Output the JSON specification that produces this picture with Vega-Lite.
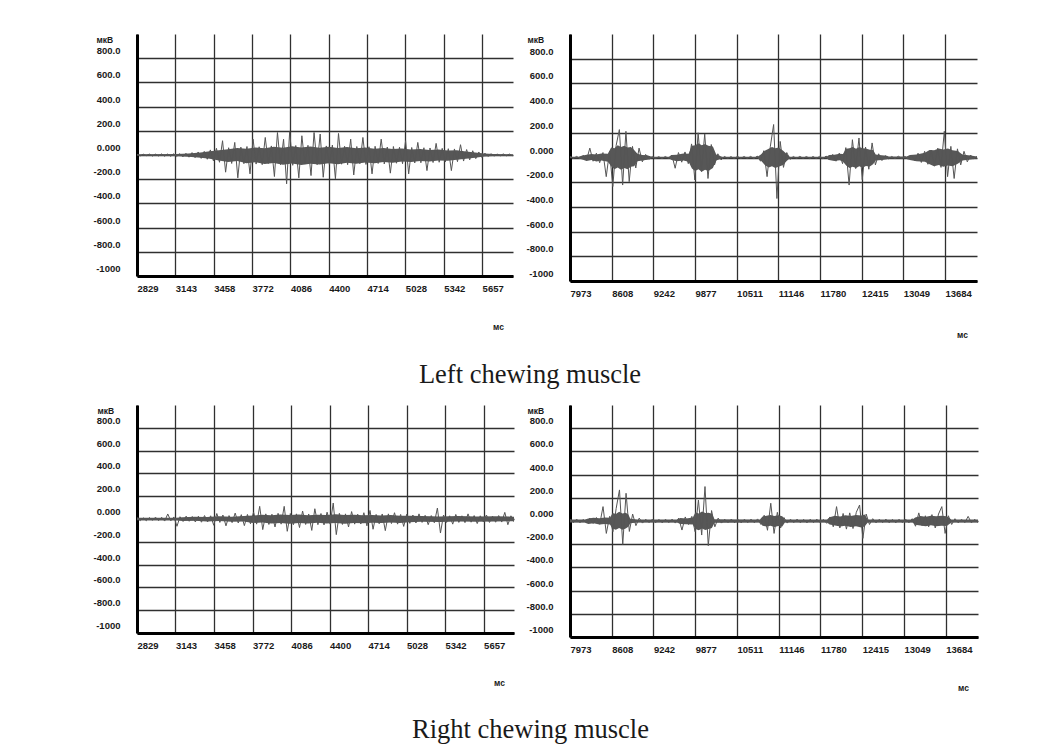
{
  "$schema": "https://vega.github.io/schema/vega-lite/v6.json",
  "autosize": {"type": "none"},
  "padding": {"left": 137, "top": 34, "right": 910, "bottom": 717},
  "background": "white",
  "columns": 2,
  "bounds": "flush",
  "spacing": {"row": 124, "column": 56},
  "datasets": {
    "tl": [{"t":2830,"v":6},{"t":2855,"v":-8},{"t":2880,"v":7},{"t":2905,"v":-6},{"t":2930,"v":8},{"t":2955,"v":-9},{"t":2980,"v":7},{"t":3005,"v":-8},{"t":3030,"v":9},{"t":3055,"v":-10},{"t":3080,"v":8},{"t":3105,"v":-11},{"t":3130,"v":10},{"t":3155,"v":-12},{"t":3180,"v":11},{"t":3205,"v":-15},{"t":3230,"v":14},{"t":3255,"v":-18},{"t":3280,"v":20},{"t":3305,"v":-22},{"t":3330,"v":25},{"t":3355,"v":-28},{"t":3380,"v":30},{"t":3405,"v":-35},{"t":3430,"v":42},{"t":3455,"v":-48},{"t":3480,"v":55},{"t":3505,"v":-60},{"t":3530,"v":118},{"t":3555,"v":-142},{"t":3580,"v":60},{"t":3605,"v":-70},{"t":3630,"v":104},{"t":3655,"v":-189},{"t":3680,"v":65},{"t":3705,"v":-72},{"t":3730,"v":70},{"t":3755,"v":-156},{"t":3780,"v":131},{"t":3805,"v":-75},{"t":3830,"v":68},{"t":3855,"v":-80},{"t":3880,"v":145},{"t":3905,"v":-70},{"t":3930,"v":75},{"t":3955,"v":-178},{"t":3980,"v":186},{"t":4005,"v":-80},{"t":4030,"v":130},{"t":4055,"v":-238},{"t":4080,"v":192},{"t":4105,"v":-85},{"t":4130,"v":78},{"t":4155,"v":-189},{"t":4180,"v":159},{"t":4205,"v":-75},{"t":4230,"v":80},{"t":4255,"v":-170},{"t":4280,"v":186},{"t":4305,"v":-80},{"t":4330,"v":173},{"t":4355,"v":-184},{"t":4380,"v":75},{"t":4405,"v":-78},{"t":4430,"v":82},{"t":4455,"v":-197},{"t":4480,"v":178},{"t":4505,"v":-76},{"t":4530,"v":72},{"t":4555,"v":-80},{"t":4580,"v":131},{"t":4605,"v":-165},{"t":4630,"v":70},{"t":4655,"v":-72},{"t":4680,"v":145},{"t":4705,"v":-78},{"t":4730,"v":68},{"t":4755,"v":-156},{"t":4780,"v":72},{"t":4805,"v":-70},{"t":4830,"v":131},{"t":4855,"v":-74},{"t":4880,"v":66},{"t":4905,"v":-150},{"t":4930,"v":70},{"t":4955,"v":-68},{"t":4980,"v":64},{"t":5005,"v":-72},{"t":5030,"v":118},{"t":5055,"v":-156},{"t":5080,"v":62},{"t":5105,"v":-66},{"t":5130,"v":104},{"t":5155,"v":-64},{"t":5180,"v":60},{"t":5205,"v":-129},{"t":5230,"v":58},{"t":5255,"v":-62},{"t":5280,"v":96},{"t":5305,"v":-60},{"t":5330,"v":55},{"t":5355,"v":-58},{"t":5380,"v":52},{"t":5405,"v":-129},{"t":5430,"v":50},{"t":5455,"v":-55},{"t":5480,"v":85},{"t":5505,"v":-50},{"t":5530,"v":45},{"t":5555,"v":-40},{"t":5580,"v":35},{"t":5605,"v":-30},{"t":5630,"v":25},{"t":5655,"v":-20},{"t":5680,"v":15},{"t":5705,"v":-12},{"t":5730,"v":10},{"t":5755,"v":-9},{"t":5780,"v":8},{"t":5805,"v":-8},{"t":5830,"v":9},{"t":5855,"v":-7},{"t":5880,"v":8},{"t":5905,"v":-6}],
    "tl_env": [{"t":2829,"lo":-6,"hi":6},{"t":3150,"lo":-9,"hi":9},{"t":3250,"lo":-14,"hi":13},{"t":3350,"lo":-22,"hi":20},{"t":3425,"lo":-32,"hi":30},{"t":3500,"lo":-45,"hi":40},{"t":3575,"lo":-58,"hi":48},{"t":3650,"lo":-50,"hi":58},{"t":3725,"lo":-68,"hi":52},{"t":3800,"lo":-60,"hi":62},{"t":3875,"lo":-75,"hi":55},{"t":3950,"lo":-66,"hi":68},{"t":4025,"lo":-80,"hi":60},{"t":4100,"lo":-70,"hi":72},{"t":4175,"lo":-82,"hi":62},{"t":4250,"lo":-72,"hi":70},{"t":4325,"lo":-78,"hi":60},{"t":4400,"lo":-68,"hi":68},{"t":4475,"lo":-76,"hi":58},{"t":4550,"lo":-65,"hi":66},{"t":4625,"lo":-72,"hi":56},{"t":4700,"lo":-62,"hi":62},{"t":4775,"lo":-68,"hi":52},{"t":4850,"lo":-58,"hi":58},{"t":4925,"lo":-64,"hi":50},{"t":5000,"lo":-54,"hi":54},{"t":5075,"lo":-58,"hi":46},{"t":5150,"lo":-50,"hi":50},{"t":5225,"lo":-54,"hi":42},{"t":5300,"lo":-46,"hi":46},{"t":5375,"lo":-48,"hi":38},{"t":5450,"lo":-40,"hi":40},{"t":5525,"lo":-32,"hi":28},{"t":5600,"lo":-22,"hi":20},{"t":5675,"lo":-12,"hi":12},{"t":5750,"lo":-8,"hi":8},{"t":5910,"lo":-6,"hi":6}],
    "tr": [{"t":7975,"v":8},{"t":8025,"v":-7},{"t":8075,"v":9},{"t":8125,"v":-10},{"t":8175,"v":18},{"t":8225,"v":-22},{"t":8275,"v":76},{"t":8325,"v":-30},{"t":8375,"v":35},{"t":8425,"v":-42},{"t":8475,"v":40},{"t":8525,"v":-155},{"t":8575,"v":50},{"t":8625,"v":-235},{"t":8675,"v":95},{"t":8725,"v":226},{"t":8775,"v":-223},{"t":8825,"v":212},{"t":8875,"v":-196},{"t":8925,"v":90},{"t":8975,"v":-85},{"t":9025,"v":76},{"t":9075,"v":-35},{"t":9125,"v":25},{"t":9175,"v":-15},{"t":9225,"v":8},{"t":9275,"v":-8},{"t":9325,"v":7},{"t":9375,"v":-9},{"t":9425,"v":8},{"t":9475,"v":-8},{"t":9525,"v":20},{"t":9575,"v":-87},{"t":9625,"v":40},{"t":9675,"v":-38},{"t":9725,"v":45},{"t":9775,"v":-50},{"t":9825,"v":110},{"t":9875,"v":-182},{"t":9925,"v":200},{"t":9975,"v":-114},{"t":10025,"v":190},{"t":10075,"v":-170},{"t":10125,"v":105},{"t":10175,"v":-60},{"t":10225,"v":30},{"t":10275,"v":-20},{"t":10325,"v":9},{"t":10375,"v":-8},{"t":10425,"v":7},{"t":10475,"v":-8},{"t":10525,"v":9},{"t":10575,"v":-7},{"t":10625,"v":8},{"t":10675,"v":-8},{"t":10725,"v":9},{"t":10775,"v":-10},{"t":10825,"v":12},{"t":10875,"v":-30},{"t":10925,"v":55},{"t":10975,"v":-155},{"t":11025,"v":90},{"t":11075,"v":267},{"t":11125,"v":-332},{"t":11175,"v":130},{"t":11225,"v":-80},{"t":11275,"v":40},{"t":11325,"v":-15},{"t":11375,"v":8},{"t":11425,"v":-8},{"t":11475,"v":9},{"t":11525,"v":-7},{"t":11575,"v":8},{"t":11625,"v":-9},{"t":11675,"v":8},{"t":11725,"v":-8},{"t":11775,"v":9},{"t":11825,"v":-10},{"t":11875,"v":12},{"t":11925,"v":-20},{"t":11975,"v":25},{"t":12025,"v":-30},{"t":12075,"v":35},{"t":12125,"v":-50},{"t":12175,"v":80},{"t":12225,"v":-223},{"t":12275,"v":144},{"t":12325,"v":-90},{"t":12375,"v":158},{"t":12425,"v":-180},{"t":12475,"v":85},{"t":12525,"v":-95},{"t":12575,"v":118},{"t":12625,"v":-60},{"t":12675,"v":30},{"t":12725,"v":-25},{"t":12775,"v":15},{"t":12825,"v":-10},{"t":12875,"v":8},{"t":12925,"v":-9},{"t":12975,"v":10},{"t":13025,"v":-8},{"t":13075,"v":9},{"t":13125,"v":-15},{"t":13175,"v":20},{"t":13225,"v":-25},{"t":13275,"v":35},{"t":13325,"v":-40},{"t":13375,"v":50},{"t":13425,"v":-55},{"t":13475,"v":60},{"t":13525,"v":-70},{"t":13575,"v":75},{"t":13625,"v":-80},{"t":13675,"v":212},{"t":13725,"v":-155},{"t":13775,"v":90},{"t":13825,"v":-170},{"t":13875,"v":70},{"t":13925,"v":-60},{"t":13975,"v":50},{"t":14025,"v":-35},{"t":14075,"v":20},{"t":14125,"v":-12},{"t":14170,"v":10}],
    "tr_env": [{"t":7973,"lo":-6,"hi":6},{"t":8100,"lo":-7,"hi":7},{"t":8150,"lo":-15,"hi":15},{"t":8225,"lo":-28,"hi":22},{"t":8300,"lo":-20,"hi":28},{"t":8375,"lo":-32,"hi":25},{"t":8450,"lo":-25,"hi":32},{"t":8550,"lo":-35,"hi":30},{"t":8600,"lo":-70,"hi":80},{"t":8650,"lo":-95,"hi":75},{"t":8700,"lo":-80,"hi":100},{"t":8750,"lo":-100,"hi":85},{"t":8800,"lo":-85,"hi":95},{"t":8850,"lo":-95,"hi":80},{"t":8900,"lo":-75,"hi":85},{"t":8950,"lo":-70,"hi":60},{"t":9000,"lo":-30,"hi":30},{"t":9075,"lo":-25,"hi":20},{"t":9150,"lo":-18,"hi":18},{"t":9220,"lo":-6,"hi":6},{"t":9480,"lo":-6,"hi":6},{"t":9520,"lo":-20,"hi":20},{"t":9600,"lo":-30,"hi":22},{"t":9700,"lo":-25,"hi":32},{"t":9780,"lo":-35,"hi":30},{"t":9830,"lo":-90,"hi":95},{"t":9880,"lo":-110,"hi":100},{"t":9930,"lo":-95,"hi":115},{"t":9980,"lo":-115,"hi":100},{"t":10030,"lo":-100,"hi":110},{"t":10080,"lo":-110,"hi":95},{"t":10150,"lo":-85,"hi":90},{"t":10200,"lo":-25,"hi":25},{"t":10290,"lo":-6,"hi":6},{"t":10830,"lo":-6,"hi":6},{"t":10880,"lo":-25,"hi":25},{"t":10940,"lo":-60,"hi":55},{"t":11000,"lo":-80,"hi":70},{"t":11050,"lo":-70,"hi":85},{"t":11100,"lo":-85,"hi":75},{"t":11150,"lo":-75,"hi":80},{"t":11220,"lo":-60,"hi":55},{"t":11270,"lo":-30,"hi":30},{"t":11320,"lo":-6,"hi":6},{"t":11880,"lo":-6,"hi":6},{"t":11920,"lo":-20,"hi":20},{"t":12000,"lo":-28,"hi":22},{"t":12080,"lo":-22,"hi":30},{"t":12130,"lo":-32,"hi":28},{"t":12180,"lo":-65,"hi":70},{"t":12230,"lo":-85,"hi":75},{"t":12280,"lo":-75,"hi":85},{"t":12330,"lo":-85,"hi":70},{"t":12380,"lo":-70,"hi":85},{"t":12430,"lo":-82,"hi":75},{"t":12480,"lo":-68,"hi":72},{"t":12540,"lo":-72,"hi":62},{"t":12590,"lo":-55,"hi":60},{"t":12630,"lo":-25,"hi":25},{"t":12720,"lo":-20,"hi":18},{"t":12800,"lo":-15,"hi":15},{"t":12830,"lo":-8,"hi":8},{"t":13100,"lo":-8,"hi":8},{"t":13150,"lo":-20,"hi":20},{"t":13250,"lo":-30,"hi":25},{"t":13380,"lo":-35,"hi":38},{"t":13450,"lo":-55,"hi":60},{"t":13520,"lo":-70,"hi":58},{"t":13590,"lo":-60,"hi":72},{"t":13660,"lo":-75,"hi":65},{"t":13730,"lo":-65,"hi":72},{"t":13800,"lo":-70,"hi":58},{"t":13880,"lo":-50,"hi":52},{"t":13950,"lo":-25,"hi":25},{"t":14100,"lo":-15,"hi":15},{"t":14173,"lo":-8,"hi":8}],
    "bl": [{"t":2830,"v":12},{"t":2855,"v":-14},{"t":2880,"v":10},{"t":2905,"v":-15},{"t":2930,"v":13},{"t":2955,"v":-12},{"t":2980,"v":16},{"t":3005,"v":-14},{"t":3030,"v":15},{"t":3055,"v":-18},{"t":3080,"v":44},{"t":3105,"v":-16},{"t":3130,"v":18},{"t":3155,"v":-64},{"t":3180,"v":20},{"t":3205,"v":-22},{"t":3230,"v":25},{"t":3255,"v":-20},{"t":3280,"v":22},{"t":3305,"v":-26},{"t":3330,"v":24},{"t":3355,"v":-28},{"t":3380,"v":30},{"t":3405,"v":-25},{"t":3430,"v":28},{"t":3455,"v":-55},{"t":3480,"v":48},{"t":3505,"v":-30},{"t":3530,"v":35},{"t":3555,"v":-60},{"t":3580,"v":30},{"t":3605,"v":-32},{"t":3630,"v":52},{"t":3655,"v":-35},{"t":3680,"v":38},{"t":3705,"v":-58},{"t":3730,"v":40},{"t":3755,"v":-42},{"t":3780,"v":60},{"t":3805,"v":-45},{"t":3830,"v":111},{"t":3855,"v":-93},{"t":3880,"v":45},{"t":3905,"v":-48},{"t":3930,"v":42},{"t":3955,"v":-70},{"t":3980,"v":50},{"t":4005,"v":-45},{"t":4030,"v":111},{"t":4055,"v":-108},{"t":4080,"v":48},{"t":4105,"v":-50},{"t":4130,"v":45},{"t":4155,"v":-75},{"t":4180,"v":70},{"t":4205,"v":-48},{"t":4230,"v":44},{"t":4255,"v":-100},{"t":4280,"v":90},{"t":4305,"v":-50},{"t":4330,"v":48},{"t":4355,"v":-52},{"t":4380,"v":60},{"t":4405,"v":-45},{"t":4430,"v":140},{"t":4455,"v":-137},{"t":4480,"v":50},{"t":4505,"v":-48},{"t":4530,"v":45},{"t":4555,"v":-70},{"t":4580,"v":65},{"t":4605,"v":-45},{"t":4630,"v":42},{"t":4655,"v":-44},{"t":4680,"v":55},{"t":4705,"v":-60},{"t":4730,"v":75},{"t":4755,"v":-90},{"t":4780,"v":40},{"t":4805,"v":-42},{"t":4830,"v":44},{"t":4855,"v":-102},{"t":4880,"v":45},{"t":4905,"v":-40},{"t":4930,"v":55},{"t":4955,"v":-45},{"t":4980,"v":40},{"t":5005,"v":-65},{"t":5030,"v":42},{"t":5055,"v":-38},{"t":5080,"v":35},{"t":5105,"v":-35},{"t":5130,"v":45},{"t":5155,"v":-30},{"t":5180,"v":32},{"t":5205,"v":-50},{"t":5230,"v":30},{"t":5255,"v":-33},{"t":5280,"v":96},{"t":5305,"v":-123},{"t":5330,"v":35},{"t":5355,"v":-30},{"t":5380,"v":28},{"t":5405,"v":-45},{"t":5430,"v":40},{"t":5455,"v":-30},{"t":5480,"v":28},{"t":5505,"v":-32},{"t":5530,"v":45},{"t":5555,"v":-28},{"t":5580,"v":30},{"t":5605,"v":-40},{"t":5630,"v":28},{"t":5655,"v":-26},{"t":5680,"v":35},{"t":5705,"v":-30},{"t":5730,"v":25},{"t":5755,"v":-28},{"t":5780,"v":30},{"t":5805,"v":-27},{"t":5830,"v":58},{"t":5855,"v":-50},{"t":5880,"v":28},{"t":5905,"v":-25}],
    "bl_env": [{"t":2829,"lo":-10,"hi":10},{"t":3150,"lo":-12,"hi":12},{"t":3200,"lo":-18,"hi":16},{"t":3300,"lo":-15,"hi":20},{"t":3400,"lo":-22,"hi":18},{"t":3500,"lo":-18,"hi":24},{"t":3600,"lo":-25,"hi":20},{"t":3700,"lo":-22,"hi":26},{"t":3775,"lo":-35,"hi":30},{"t":3850,"lo":-30,"hi":38},{"t":3925,"lo":-40,"hi":32},{"t":4000,"lo":-34,"hi":40},{"t":4075,"lo":-42,"hi":34},{"t":4150,"lo":-35,"hi":40},{"t":4225,"lo":-40,"hi":32},{"t":4300,"lo":-32,"hi":38},{"t":4375,"lo":-40,"hi":35},{"t":4450,"lo":-36,"hi":42},{"t":4525,"lo":-42,"hi":34},{"t":4600,"lo":-35,"hi":38},{"t":4675,"lo":-38,"hi":32},{"t":4750,"lo":-32,"hi":36},{"t":4825,"lo":-36,"hi":30},{"t":4900,"lo":-30,"hi":34},{"t":4975,"lo":-34,"hi":28},{"t":5050,"lo":-28,"hi":28},{"t":5150,"lo":-24,"hi":26},{"t":5300,"lo":-26,"hi":22},{"t":5450,"lo":-22,"hi":26},{"t":5600,"lo":-25,"hi":22},{"t":5750,"lo":-22,"hi":24},{"t":5905,"lo":-20,"hi":20}],
    "br": [{"t":7975,"v":15},{"t":8025,"v":-14},{"t":8075,"v":16},{"t":8125,"v":-15},{"t":8175,"v":14},{"t":8225,"v":-18},{"t":8275,"v":25},{"t":8325,"v":-22},{"t":8375,"v":30},{"t":8425,"v":-28},{"t":8475,"v":124},{"t":8525,"v":-107},{"t":8575,"v":40},{"t":8625,"v":-92},{"t":8675,"v":109},{"t":8725,"v":268},{"t":8775,"v":-202},{"t":8825,"v":239},{"t":8875,"v":-90},{"t":8925,"v":60},{"t":8975,"v":-40},{"t":9025,"v":25},{"t":9075,"v":-18},{"t":9125,"v":15},{"t":9175,"v":-14},{"t":9225,"v":16},{"t":9275,"v":-15},{"t":9325,"v":14},{"t":9375,"v":-16},{"t":9425,"v":15},{"t":9475,"v":-14},{"t":9525,"v":16},{"t":9575,"v":-18},{"t":9625,"v":25},{"t":9675,"v":-78},{"t":9725,"v":35},{"t":9775,"v":-30},{"t":9825,"v":40},{"t":9875,"v":-92},{"t":9925,"v":181},{"t":9975,"v":-121},{"t":10025,"v":297},{"t":10075,"v":-213},{"t":10125,"v":90},{"t":10175,"v":-50},{"t":10225,"v":25},{"t":10275,"v":-18},{"t":10325,"v":15},{"t":10375,"v":-14},{"t":10425,"v":16},{"t":10475,"v":-15},{"t":10525,"v":14},{"t":10575,"v":-16},{"t":10625,"v":15},{"t":10675,"v":-14},{"t":10725,"v":16},{"t":10775,"v":-15},{"t":10825,"v":18},{"t":10875,"v":-30},{"t":10925,"v":50},{"t":10975,"v":-80},{"t":11025,"v":153},{"t":11075,"v":-107},{"t":11125,"v":75},{"t":11175,"v":-60},{"t":11225,"v":30},{"t":11275,"v":-18},{"t":11325,"v":15},{"t":11375,"v":-14},{"t":11425,"v":16},{"t":11475,"v":-15},{"t":11525,"v":14},{"t":11575,"v":-16},{"t":11625,"v":15},{"t":11675,"v":-14},{"t":11725,"v":16},{"t":11775,"v":-15},{"t":11825,"v":14},{"t":11875,"v":-20},{"t":11925,"v":35},{"t":11975,"v":-50},{"t":12025,"v":124},{"t":12075,"v":-60},{"t":12125,"v":65},{"t":12175,"v":-70},{"t":12225,"v":70},{"t":12275,"v":-65},{"t":12325,"v":75},{"t":12375,"v":138},{"t":12425,"v":-150},{"t":12475,"v":60},{"t":12525,"v":-30},{"t":12575,"v":20},{"t":12625,"v":-16},{"t":12675,"v":15},{"t":12725,"v":-14},{"t":12775,"v":16},{"t":12825,"v":-15},{"t":12875,"v":14},{"t":12925,"v":-16},{"t":12975,"v":15},{"t":13025,"v":-14},{"t":13075,"v":16},{"t":13125,"v":-15},{"t":13175,"v":20},{"t":13225,"v":-45},{"t":13275,"v":70},{"t":13325,"v":-40},{"t":13375,"v":45},{"t":13425,"v":-50},{"t":13475,"v":55},{"t":13525,"v":-60},{"t":13575,"v":60},{"t":13625,"v":124},{"t":13675,"v":-107},{"t":13725,"v":45},{"t":13775,"v":-30},{"t":13825,"v":20},{"t":13875,"v":-16},{"t":13925,"v":15},{"t":13975,"v":-14},{"t":14025,"v":40},{"t":14075,"v":-16},{"t":14125,"v":15},{"t":14170,"v":-14}],
    "br_env": [{"t":7973,"lo":-12,"hi":12},{"t":8200,"lo":-14,"hi":14},{"t":8250,"lo":-25,"hi":22},{"t":8330,"lo":-20,"hi":28},{"t":8420,"lo":-30,"hi":24},{"t":8500,"lo":-26,"hi":30},{"t":8580,"lo":-30,"hi":28},{"t":8620,"lo":-65,"hi":70},{"t":8670,"lo":-75,"hi":60},{"t":8720,"lo":-60,"hi":80},{"t":8770,"lo":-75,"hi":65},{"t":8820,"lo":-65,"hi":72},{"t":8860,"lo":-50,"hi":55},{"t":8890,"lo":-20,"hi":20},{"t":9000,"lo":-12,"hi":12},{"t":9600,"lo":-12,"hi":12},{"t":9650,"lo":-25,"hi":25},{"t":9740,"lo":-28,"hi":22},{"t":9840,"lo":-30,"hi":30},{"t":9880,"lo":-70,"hi":75},{"t":9930,"lo":-80,"hi":65},{"t":9980,"lo":-65,"hi":82},{"t":10030,"lo":-78,"hi":70},{"t":10080,"lo":-68,"hi":72},{"t":10130,"lo":-60,"hi":62},{"t":10170,"lo":-15,"hi":15},{"t":10860,"lo":-12,"hi":12},{"t":10900,"lo":-40,"hi":38},{"t":10960,"lo":-48,"hi":45},{"t":11020,"lo":-42,"hi":52},{"t":11080,"lo":-52,"hi":44},{"t":11140,"lo":-44,"hi":50},{"t":11200,"lo":-48,"hi":42},{"t":11240,"lo":-14,"hi":14},{"t":11880,"lo":-12,"hi":12},{"t":11920,"lo":-30,"hi":32},{"t":12000,"lo":-38,"hi":45},{"t":12080,"lo":-48,"hi":38},{"t":12160,"lo":-40,"hi":50},{"t":12240,"lo":-52,"hi":44},{"t":12320,"lo":-45,"hi":52},{"t":12400,"lo":-55,"hi":48},{"t":12450,"lo":-48,"hi":55},{"t":12500,"lo":-14,"hi":14},{"t":13180,"lo":-12,"hi":12},{"t":13220,"lo":-32,"hi":30},{"t":13300,"lo":-38,"hi":44},{"t":13380,"lo":-45,"hi":36},{"t":13460,"lo":-36,"hi":46},{"t":13540,"lo":-46,"hi":40},{"t":13620,"lo":-40,"hi":46},{"t":13700,"lo":-44,"hi":40},{"t":13770,"lo":-14,"hi":14},{"t":14175,"lo":-12,"hi":12}]
  },
  "concat": [
    {
      "width": 376, "height": 242,
      "title": {"text": "Left chewing muscle", "orient": "bottom", "anchor": "middle", "frame": "group", "dx": 205, "offset": 31},
      "encoding": {
        "x": {"field": "t", "type": "quantitative", "scale": {"domain": [2829, 5910], "nice": false, "zero": false},
          "axis": {"values": [2829, 3143, 3458, 3772, 4086, 4400, 4714, 5028, 5342, 5657], "format": "d", "title": "мс", "titleX": 361, "titleY": 50}}
      },
      "layer": [
        {"data": {"name": "tl_env"}, "mark": {"type": "area", "color": "#575757", "clip": true},
          "encoding": {"y": {"field": "hi", "type": "quantitative", "scale": {"domain": [-1000, 1000], "nice": false, "zero": false},
            "axis": {"values": [-1000, -800, -600, -400, -200, 0, 200, 400, 600, 800], "title": "мкВ", "titleX": -41, "titleY": 5}}, "y2": {"field": "lo"}}},
        {"data": {"name": "tl"}, "mark": {"type": "line", "color": "#555555", "strokeWidth": 1, "clip": true},
          "encoding": {"y": {"field": "v", "type": "quantitative", "scale": {"domain": [-1000, 1000], "nice": false, "zero": false},
            "axis": {"values": [-1000, -800, -600, -400, -200, 0, 200, 400, 600, 800], "title": "мкВ", "titleX": -41, "titleY": 5}}}}
      ]
    },
    {
      "width": 407, "height": 247,
      "encoding": {
        "x": {"field": "t", "type": "quantitative", "scale": {"domain": [7973, 14173], "nice": false, "zero": false},
          "axis": {"values": [7973, 8608, 9242, 9877, 10511, 11146, 11780, 12415, 13049, 13684], "format": "d", "title": "мс", "titleX": 392, "titleY": 53}}
      },
      "layer": [
        {"data": {"name": "tr_env"}, "mark": {"type": "area", "color": "#575757", "clip": true},
          "encoding": {"y": {"field": "hi", "type": "quantitative", "scale": {"domain": [-1000, 1000], "nice": false, "zero": false},
            "axis": {"values": [-1000, -800, -600, -400, -200, 0, 200, 400, 600, 800], "title": "мкВ", "titleX": -43, "titleY": 5}}, "y2": {"field": "lo"}}},
        {"data": {"name": "tr"}, "mark": {"type": "line", "color": "#555555", "strokeWidth": 1, "clip": true},
          "encoding": {"y": {"field": "v", "type": "quantitative", "scale": {"domain": [-1000, 1000], "nice": false, "zero": false},
            "axis": {"values": [-1000, -800, -600, -400, -200, 0, 200, 400, 600, 800], "title": "мкВ", "titleX": -43, "titleY": 5}}}}
      ]
    },
    {
      "width": 377, "height": 228,
      "title": {"text": "Right chewing muscle", "orient": "bottom", "anchor": "middle", "frame": "group", "dx": 205, "offset": 30},
      "encoding": {
        "x": {"field": "t", "type": "quantitative", "scale": {"domain": [2829, 5905], "nice": false, "zero": false},
          "axis": {"values": [2829, 3143, 3458, 3772, 4086, 4400, 4714, 5028, 5342, 5657], "format": "d", "title": "мс", "titleX": 362, "titleY": 49}}
      },
      "layer": [
        {"data": {"name": "bl_env"}, "mark": {"type": "area", "color": "#575757", "clip": true},
          "encoding": {"y": {"field": "hi", "type": "quantitative", "scale": {"domain": [-1000, 1000], "nice": false, "zero": false},
            "axis": {"values": [-1000, -800, -600, -400, -200, 0, 200, 400, 600, 800], "title": "мкВ", "titleX": -40, "titleY": 5}}, "y2": {"field": "lo"}}},
        {"data": {"name": "bl"}, "mark": {"type": "line", "color": "#555555", "strokeWidth": 1, "clip": true},
          "encoding": {"y": {"field": "v", "type": "quantitative", "scale": {"domain": [-1000, 1000], "nice": false, "zero": false},
            "axis": {"values": [-1000, -800, -600, -400, -200, 0, 200, 400, 600, 800], "title": "мкВ", "titleX": -40, "titleY": 5}}}}
      ]
    },
    {
      "width": 408, "height": 232,
      "encoding": {
        "x": {"field": "t", "type": "quantitative", "scale": {"domain": [7973, 14175], "nice": false, "zero": false},
          "axis": {"values": [7973, 8608, 9242, 9877, 10511, 11146, 11780, 12415, 13049, 13684], "format": "d", "title": "мс", "titleX": 393, "titleY": 50}}
      },
      "layer": [
        {"data": {"name": "br_env"}, "mark": {"type": "area", "color": "#575757", "clip": true},
          "encoding": {"y": {"field": "hi", "type": "quantitative", "scale": {"domain": [-1000, 1000], "nice": false, "zero": false},
            "axis": {"values": [-1000, -800, -600, -400, -200, 0, 200, 400, 600, 800], "title": "мкВ", "titleX": -43, "titleY": 5}}, "y2": {"field": "lo"}}},
        {"data": {"name": "br"}, "mark": {"type": "line", "color": "#555555", "strokeWidth": 1, "clip": true},
          "encoding": {"y": {"field": "v", "type": "quantitative", "scale": {"domain": [-1000, 1000], "nice": false, "zero": false},
            "axis": {"values": [-1000, -800, -600, -400, -200, 0, 200, 400, 600, 800], "title": "мкВ", "titleX": -43, "titleY": 5}}}}
      ]
    }
  ],
  "config": {
    "view": {"stroke": null},
    "title": {"font": "Liberation Serif", "fontSize": 26.5, "fontWeight": "normal", "color": "#1a1a1a", "baseline": "alphabetic"},
    "axis": {
      "grid": true, "gridColor": "#303030", "gridWidth": 1.3, "gridOpacity": 1,
      "domainColor": "#000000", "domainWidth": 3, "ticks": false,
      "labelFont": "Liberation Sans", "labelFontSize": 9.5, "labelFontWeight": "bold", "labelColor": "#1a1a1a",
      "labelFlush": false, "labelOverlap": false,
      "titleFont": "Liberation Sans", "titleFontSize": 8.5, "titleFontWeight": "bold", "titleColor": "#1a1a1a",
      "titleAngle": 0, "titleBaseline": "middle", "titlePadding": 0
    },
    "axisX": {"labelAlign": "left", "labelBaseline": "top", "labelPadding": 7, "labelAngle": 0, "titleAlign": "center"},
    "axisY": {"labelAlign": "right", "labelBaseline": "middle", "labelPadding": 17, "labelOffset": -7.5, "titleAlign": "left",
      "labelExpr": "datum.value == 0 ? '0.000' : datum.value == -1000 ? '-1000' : datum.value + '.0'"}
  }
}
